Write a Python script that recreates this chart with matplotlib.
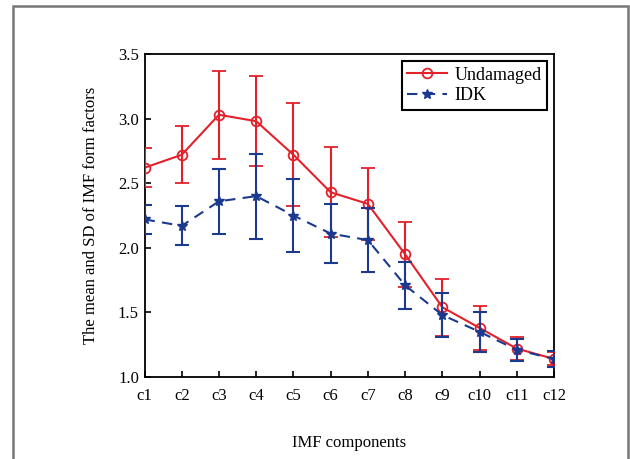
import matplotlib
matplotlib.use("Agg")
import matplotlib.pyplot as plt
from matplotlib.patches import Rectangle
import numpy as np

# IMF components on the x axis
components = ["c1", "c2", "c3", "c4", "c5", "c6", "c7", "c8", "c9", "c10", "c11", "c12"]

# mean and SD of the form factors
undamaged_mean = [2.62, 2.72, 3.03, 2.98, 2.72, 2.43, 2.34, 1.95, 1.54, 1.38, 1.22, 1.14]
undamaged_sd = [0.15, 0.22, 0.34, 0.35, 0.40, 0.35, 0.28, 0.25, 0.22, 0.17, 0.09, 0.05]
idk_mean = [2.22, 2.17, 2.36, 2.40, 2.25, 2.11, 2.06, 1.71, 1.48, 1.35, 1.21, 1.14]
idk_sd = [0.11, 0.15, 0.25, 0.33, 0.28, 0.23, 0.25, 0.18, 0.17, 0.155, 0.085, 0.06]

plt.rcParams["font.family"] = ["Liberation Serif", "DejaVu Serif"]
plt.rcParams["font.size"] = 12

red = "#e3212b"
blue = "#1b3a8f"

fig = plt.figure(figsize=(6.3, 4.59), dpi=100)
ax = fig.add_axes([0.2294, 0.1786, 0.650, 0.7037])

x = np.arange(1, len(components) + 1)

eb1 = ax.errorbar(x, undamaged_mean, yerr=undamaged_sd, color=red, lw=1.5,
                  marker="o", markersize=7, markerfacecolor="none", markeredgewidth=1.3,
                  capsize=5, elinewidth=1.5, capthick=1.5, zorder=3)
eb2 = ax.errorbar(x, idk_mean, yerr=idk_sd, color=blue, lw=1.5, ls=(0, (5, 3.5)),
                  marker="*", markersize=7, capsize=5, elinewidth=1.5, capthick=1.5,
                  zorder=4)

ax.set_xlim(1, 12)
ax.set_ylim(1.0, 3.5)
ax.set_xticks(x)
ax.set_xticklabels(components)
ax.set_yticks([1.0, 1.5, 2.0, 2.5, 3.0, 3.5])
ax.set_yticklabels(["1.0", "1.5", "2.0", "2.5", "3.0", "3.5"])
ax.tick_params(direction="in", length=4, width=1.2, top=False, right=False)
ax.tick_params(axis="x", pad=8)
ax.tick_params(axis="y", pad=4)
for s in ax.spines.values():
    s.set_linewidth(1.3)

ax.set_xlabel("IMF components", labelpad=22)
ax.set_ylabel("The mean and SD of IMF form factors", labelpad=14)

# legend shows only the line + marker, no error bars
leg = ax.legend([eb1.lines[0], eb2.lines[0]], ["Undamaged", "IDK"],
                loc="upper right", fancybox=False, edgecolor="black",
                framealpha=1, borderpad=0.3, handlelength=2.2,
                handletextpad=0.4, labelspacing=0.2, borderaxespad=0.4,
                fontsize=13)
leg.get_frame().set_linewidth(1.5)

# grey page frame around the figure
fig.add_artist(Rectangle((12.5 / 630, -0.1), (628 - 12.5) / 630, 1.1 - 6.5 / 459,
                         transform=fig.transFigure, fill=False,
                         edgecolor="#777777", lw=1.8, clip_on=False))

fig.savefig("out.png", dpi=100)
